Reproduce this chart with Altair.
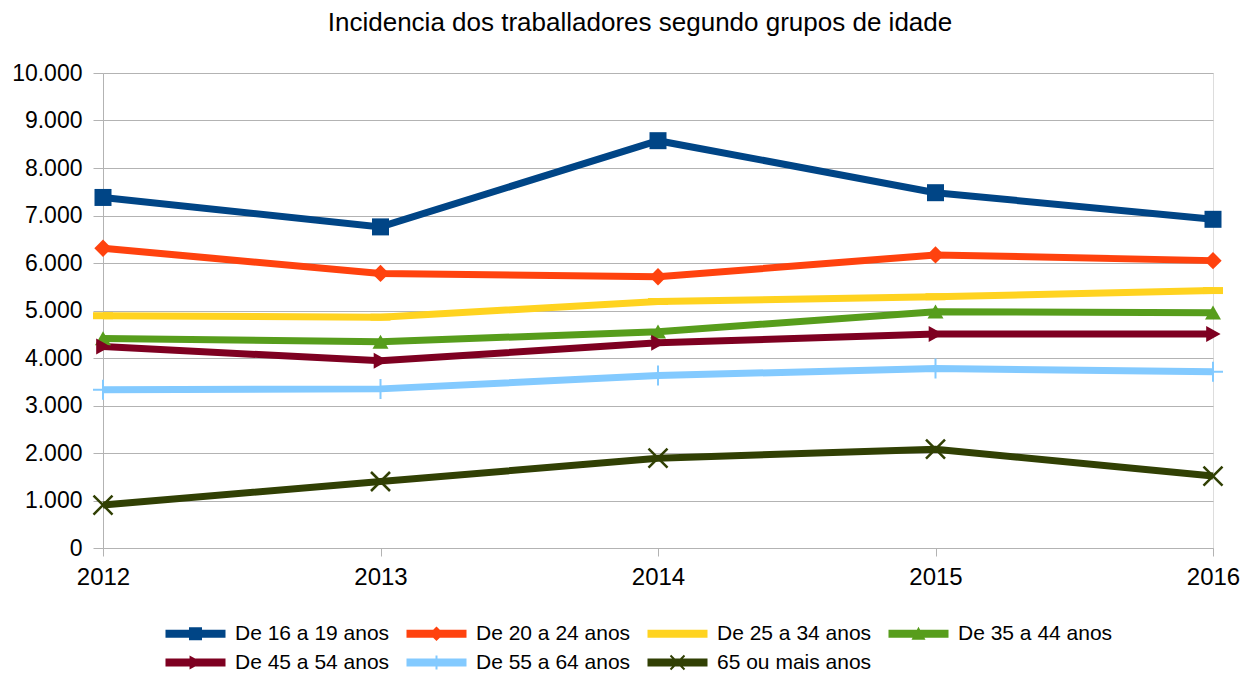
import altair as alt
import pandas as pd

years = [2012, 2013, 2014, 2015, 2016]
series_names = ["De 16 a 19 anos", "De 20 a 24 anos", "De 25 a 34 anos", "De 35 a 44 anos",
                "De 45 a 54 anos", "De 55 a 64 anos", "65 ou mais anos"]
s16 = [7380, 6760, 8575, 7480, 6920]
s20 = [6310, 5780, 5710, 6170, 6050]
s25 = [4890, 4860, 5190, 5290, 5420]
s35 = [4410, 4340, 4555, 4975, 4955]
s45 = [4240, 3940, 4320, 4505, 4505]
s55 = [3330, 3350, 3630, 3780, 3710]
s65 = [905, 1400, 1890, 2080, 1515]
all_series = [s16, s20, s25, s35, s45, s55, s65]
y_ticks = [0, 1000, 2000, 3000, 4000, 5000, 6000, 7000, 8000, 9000, 10000]

colors = ["#004586", "#ff420e", "#ffd320", "#579d1c", "#7e0021", "#83caff", "#314004"]

rows = []
for name, vals in zip(series_names, all_series):
    for yr, v in zip(years, vals):
        rows.append({"year": yr, "value": v, "series": name})
df = pd.DataFrame(rows)

FONT = "Liberation Sans"
GRID = "#b3b3b3"

# marker shapes in the plot: (path, size, filled, strokeWidth)
markers = [
    ("M-1,-1H1V1H-1Z", 289, True, 0),
    ("M0,-1L1,0L0,1L-1,0Z", 300, True, 0),
    ("M-1,-0.35H1V0.35H-1Z", 400, True, 0),
    ("M0,-0.9L1,0.85L-1,0.85Z", 256, True, 0),
    ("M-0.85,-1L0.95,0L-0.85,1Z", 256, True, 0),
    ("M0,-1V1M-1,0H1", 400, False, 2),
    ("M-1,-1L1,1M-1,1L1,-1", 361, False, 2.5),
]

# legend symbols: unit = 7px (size 196); bar is 60px wide, 8px thick
bar = "M-4.286,-0.571H4.286V0.571H-4.286Z "
legend_paths = [
    bar + "M-0.93,-0.93H0.93V0.93H-0.93Z",
    bar + "M0,-1.05L1.05,0L0,1.05L-1.05,0Z",
    bar,
    bar + "M0,-1L1,0.85L-1,0.85Z",
    bar + "M-0.85,-1L1,0L-0.85,1Z",
    bar + "M-0.143,-1H0.143V1H-0.143Z",
    bar + "M-0.9,-1.1L1.1,0.9L0.9,1.1L-1.1,-0.9Z "
          "M-1.1,0.9L0.9,-1.1L1.1,-0.9L-0.9,1.1Z",
]

x_enc = alt.X("year:Q", scale=alt.Scale(domain=[2012, 2016], nice=False, zero=False),
              axis=alt.Axis(values=years, format="d", title=None, grid=False,
                            labelFontSize=24, labelFlush=False, labelOverlap=False,
                            tickSize=8, tickColor=GRID, domainColor=GRID, labelPadding=9,
                            labelColor="black", labelFont=FONT))
y_enc = alt.Y("value:Q", scale=alt.Scale(domain=[0, 10000], nice=False),
              axis=alt.Axis(values=y_ticks, title=None, grid=True, gridColor=GRID,
                            labelExpr="replace(format(datum.value, ','), ',', '.')",
                            labelFontSize=23, tickSize=10, tickColor=GRID, domainColor=GRID,
                            labelPadding=11, labelColor="black", labelFont=FONT))

base = alt.Chart(df)

lines = base.mark_line(strokeWidth=7).encode(
    x=x_enc, y=y_enc,
    color=alt.Color("series:N", scale=alt.Scale(domain=series_names, range=colors), legend=None))

layers = [lines]
for name, col, (path, size, filled, sw) in zip(series_names, colors, markers):
    if filled:
        m = base.transform_filter(alt.datum.series == name).mark_point(
            shape=path, size=size, filled=True, opacity=1, color=col, strokeWidth=0)
    else:
        m = base.transform_filter(alt.datum.series == name).mark_point(
            shape=path, size=size, filled=False, opacity=1, color=col, strokeWidth=sw)
    layers.append(m.encode(x="year:Q", y="value:Q"))

leg = dict(orient="none", legendX=63, legendY=550, columns=4, direction="horizontal",
           title=None, labelFont=FONT, labelFontSize=21, labelColor="black",
           labelLimit=400, labelOffset=29, symbolOffset=19, symbolSize=196,
           symbolStrokeWidth=0, symbolOpacity=1, rowPadding=7, columnPadding=16)

legend_layer = base.mark_point(
    filled=True, opacity=0, size=196, strokeWidth=0).encode(
    x="year:Q", y="value:Q",
    fill=alt.Fill("series:N", scale=alt.Scale(domain=series_names, range=colors),
                  legend=alt.Legend(**leg)),
    shape=alt.Shape("series:N", scale=alt.Scale(domain=series_names, range=legend_paths),
                    legend=alt.Legend(**leg)),
)
layers.insert(0, legend_layer)

chart = alt.layer(*layers).properties(
    width=1110, height=475,
    title=alt.Title("Incidencia dos traballadores segundo grupos de idade",
                    font=FONT, fontSize=26, fontWeight="normal", color="black",
                    anchor="middle", dx=-18, offset=26),
    autosize=alt.AutoSizeParams(type="none"),
    padding={"left": 95, "top": 65, "right": 29, "bottom": 126},
).configure_view(stroke=GRID, strokeWidth=1).configure(background="white")

chart.save("out.html", embed_options={"renderer": "svg", "actions": False})
